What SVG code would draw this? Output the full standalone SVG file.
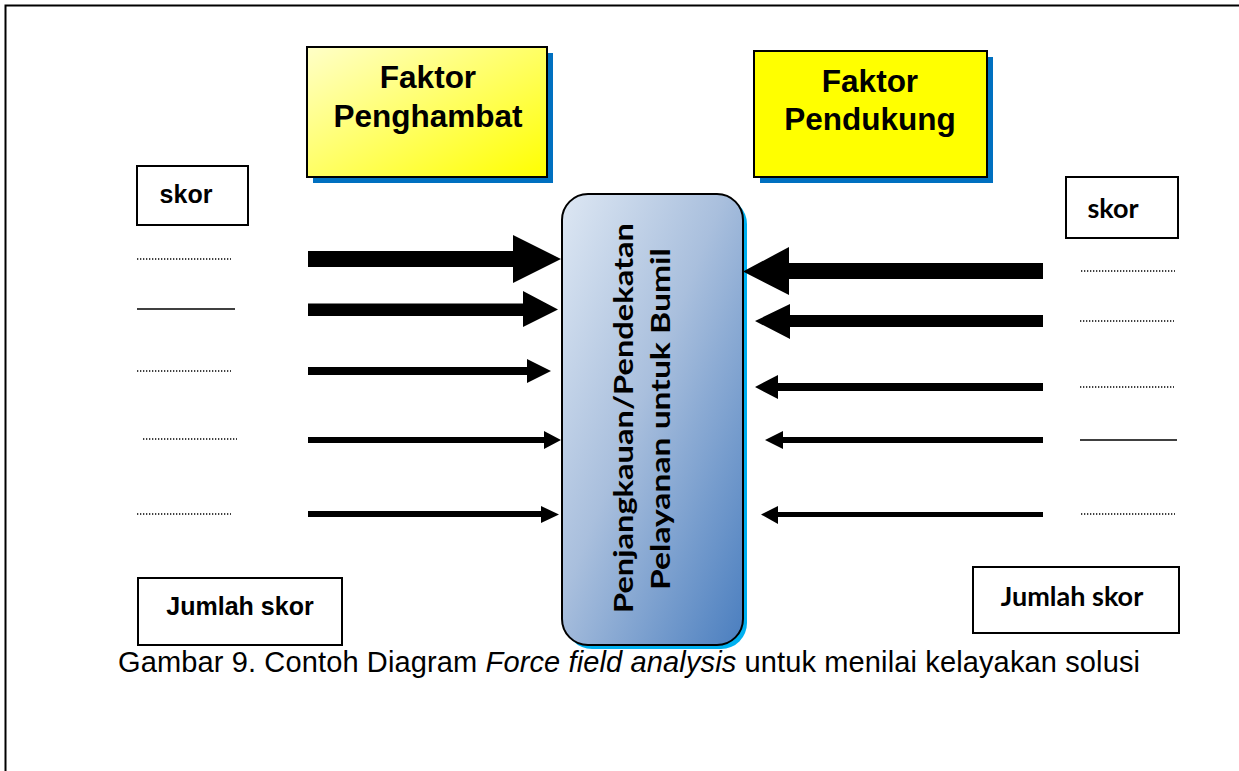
<svg xmlns="http://www.w3.org/2000/svg" width="1239" height="771" viewBox="0 0 1239 771">
<defs>
<linearGradient id="gY" x1="0" y1="0" x2="1" y2="1">
<stop offset="0" stop-color="#FFFFC8"/>
<stop offset="1" stop-color="#FFFF00"/>
</linearGradient>
<linearGradient id="gB" x1="0" y1="0" x2="1" y2="1">
<stop offset="0" stop-color="#DDE7F3"/>
<stop offset="0.45" stop-color="#A9BFDD"/>
<stop offset="1" stop-color="#4A7EBF"/>
</linearGradient>
<style>
.frame{fill:none;stroke:#000;stroke-width:2}
.box{fill:#fff;stroke:#000;stroke-width:2}
.hdr{font-family:"Liberation Sans",Arial,sans-serif;font-weight:bold;font-size:31.5px;text-anchor:middle;fill:#000}
.sa{font-family:"Liberation Sans",Arial,sans-serif;font-weight:bold;font-size:25px;text-anchor:middle;fill:#000}
.sg{font-family:Lato,"Open Sans",sans-serif;font-weight:bold;text-anchor:middle;fill:#000}
.dot{stroke:#000;stroke-width:1.3;stroke-dasharray:1.3 1.7;fill:none}
.sol{stroke:#000;stroke-width:1.6;fill:none}
.cap{font-family:"Liberation Sans",Arial,sans-serif;font-size:29px;fill:#000}
</style>
</defs>
<rect x="0" y="0" width="1239" height="771" fill="#fff"/>
<path class="frame" d="M5.5,771 V5.5 H1239"/>

<g id="faktor-penghambat">
<rect x="313" y="53" width="240" height="130" fill="#0070C0"/>
<rect x="307" y="47" width="240" height="130" fill="url(#gY)" stroke="#000" stroke-width="2"/>
<text class="hdr" x="428" y="88">Faktor</text>
<text class="hdr" x="428" y="127">Penghambat</text>
</g>

<g id="faktor-pendukung">
<rect x="760" y="57" width="233" height="126" fill="#0070C0"/>
<rect x="754" y="51" width="233" height="126" fill="#FFFF00" stroke="#000" stroke-width="2"/>
<text class="hdr" x="870" y="92">Faktor</text>
<text class="hdr" x="870" y="130">Pendukung</text>
</g>

<g id="center-box">
<rect x="566" y="198" width="181" height="451" rx="26" ry="26" fill="#00B0F0"/>
<rect x="562" y="194" width="181" height="451" rx="26" ry="26" fill="url(#gB)" stroke="#000" stroke-width="2"/>
<text class="sg" font-size="27" transform="translate(633,418) rotate(-90)" x="0" y="0" textLength="390" lengthAdjust="spacingAndGlyphs">Penjangkauan/Pendekatan</text>
<text class="sg" font-size="27" transform="translate(670,419) rotate(-90)" x="0" y="0" textLength="342" lengthAdjust="spacingAndGlyphs">Pelayanan untuk Bumil</text>
</g>

<g id="skor-left">
<rect class="box" x="137" y="166" width="111" height="59"/>
<text class="sa" x="186" y="203">skor</text>
</g>
<g id="skor-right">
<rect class="box" x="1066" y="177" width="112" height="61"/>
<text class="sg" font-size="27" x="1113" y="218">skor</text>
</g>
<g id="jumlah-left">
<rect class="box" x="138" y="578" width="204" height="67"/>
<text class="sa" x="240" y="615" font-size="27">Jumlah skor</text>
</g>
<g id="jumlah-right">
<rect class="box" x="973" y="567" width="206" height="66"/>
<text class="sg" font-size="27" x="1072" y="606">Jumlah skor</text>
</g>

<g id="score-lines">
<line class="dot" x1="137" y1="259" x2="231" y2="259"/>
<line class="sol" x1="137" y1="309" x2="235" y2="309"/>
<line class="dot" x1="137" y1="371" x2="231" y2="371"/>
<line class="dot" x1="143" y1="439" x2="237" y2="439"/>
<line class="dot" x1="137" y1="514" x2="231" y2="514"/>
<line class="dot" x1="1081" y1="271" x2="1175" y2="271"/>
<line class="dot" x1="1080" y1="321" x2="1174" y2="321"/>
<line class="dot" x1="1080" y1="387" x2="1174" y2="387"/>
<line class="sol" x1="1080" y1="440" x2="1177" y2="440" stroke-width="2"/>
<line class="dot" x1="1081" y1="514" x2="1175" y2="514"/>
</g>

<g id="connectors" fill="#000">
<polygon points="308,251 513,251 513,235 561,259 513,283 513,267 308,267"/>
<polygon points="308,303.5 523,303.5 523,291 558,309.5 523,327 523,316 308,316"/>
<polygon points="308,367 527,367 527,359 551,371 527,383 527,375 308,375"/>
<polygon points="308,437 544,437 544,431 561,440 544,449 544,443 308,443"/>
<polygon points="308,511 541,511 541,506 559,514.5 541,523 541,517 308,517"/>
<polygon points="1043,263 789,263 789,247 743,271.5 789,295 789,279 1043,279"/>
<polygon points="1043,315 790,315 790,304 755,321 790,339 790,327 1043,327"/>
<polygon points="1043,383 778,383 778,375 755,387 778,399 778,391 1043,391"/>
<polygon points="1043,437 783,437 783,431 765,440 783,449 783,443 1043,443"/>
<polygon points="1043,512 778,512 778,506 761,514.5 778,524 778,517 1043,517"/>
</g>

<text class="cap" x="118" y="672" textLength="1022" lengthAdjust="spacing">Gambar 9. Contoh Diagram <tspan font-style="italic">Force field analysis</tspan> untuk menilai kelayakan solusi</text>
</svg>
